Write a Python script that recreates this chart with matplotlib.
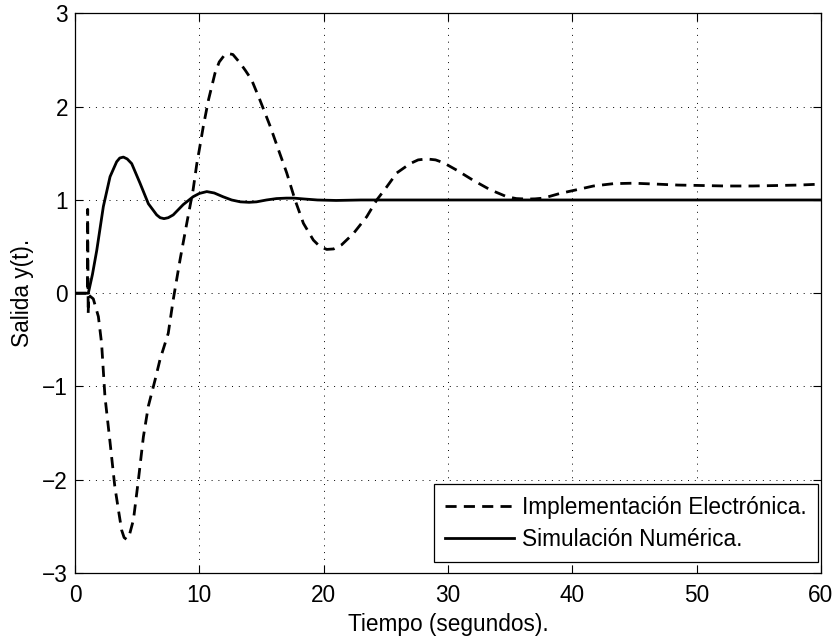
import matplotlib
matplotlib.use("Agg")
import matplotlib.pyplot as plt

# Electronic implementation (dashed)
t_elec = [0.0, 1.0, 1.02, 1.06, 1.1, 1.47, 1.88, 2.14, 2.41, 2.82, 3.2, 3.5, 3.75, 3.95,
          4.15, 4.4, 4.7, 5.1, 5.5, 5.9, 6.44, 6.84, 7.24, 7.5, 7.9, 8.45, 8.99, 9.5,
          9.8, 10.0, 10.32, 10.73, 11.26, 11.6, 12.0, 12.33, 12.7, 13.27, 13.7, 14.2,
          14.88, 15.7, 16.36, 17.03, 17.7, 18.37, 19.17, 19.7, 20.25, 20.8, 21.45,
          22.39, 23.46, 24.27, 25.07, 25.88, 26.95, 27.6, 28.29, 29.0, 29.63, 30.7,
          32.04, 33.39, 34.73, 35.5, 36.34, 37.0, 37.68, 39.0, 40.36, 41.7, 43.3,
          44.9, 46.8, 48.5, 50.5, 52.3, 54.5, 56.4, 58.2, 60.0]
y_elec = [0.0, 0.0, 0.9, -0.22, -0.02, -0.06, -0.25, -0.54, -1.11, -1.6, -2.07, -2.33, -2.54, -2.62,
          -2.64, -2.58, -2.43, -2.0, -1.54, -1.21, -0.93, -0.71, -0.54, -0.43, -0.07, 0.36, 0.75, 1.11,
          1.39, 1.54, 1.79, 2.07, 2.36, 2.48, 2.55, 2.57, 2.56, 2.47, 2.39, 2.29,
          2.07, 1.79, 1.54, 1.29, 1.0, 0.75, 0.57, 0.5, 0.47, 0.475, 0.52,
          0.64, 0.82, 1.0, 1.14, 1.29, 1.39, 1.43, 1.44, 1.43, 1.40, 1.32,
          1.21, 1.11, 1.035, 1.015, 1.01, 1.012, 1.02, 1.07, 1.11, 1.15, 1.175,
          1.18, 1.17, 1.16, 1.155, 1.15, 1.15, 1.155, 1.16, 1.17]

# Numerical simulation (solid)
t_sim = [0.0, 1.07, 1.4, 1.75, 2.28, 2.82, 3.35, 3.6, 3.89, 4.2, 4.56, 5.23, 5.9, 6.57,
         6.85, 7.16, 7.5, 7.9, 8.7, 9.5, 10.0, 10.6, 11.2, 11.9, 12.6, 13.3, 14.0, 14.6,
         15.4, 16.2, 17.0, 17.6, 18.5, 19.5, 21.0, 23.0, 26.0, 30.0, 40.0, 50.0, 60.0]
y_sim = [0.0, 0.0, 0.2, 0.46, 0.93, 1.25, 1.41, 1.45, 1.46, 1.44, 1.39, 1.18, 0.96, 0.84,
         0.81, 0.80, 0.81, 0.84, 0.95, 1.035, 1.07, 1.09, 1.075, 1.035, 1.0, 0.98, 0.975, 0.98,
         1.0, 1.015, 1.02, 1.02, 1.01, 1.0, 0.995, 1.0, 1.0, 1.0, 1.0, 1.0, 1.0]

x_ticks = [0, 10, 20, 30, 40, 50, 60]
y_ticks = [-3, -2, -1, 0, 1, 2, 3]
labels = ["Implementación Electrónica.", "Simulación Numérica."]

plt.rcParams['font.family'] = ['Liberation Sans', 'DejaVu Sans']
plt.rcParams['axes.unicode_minus'] = True

FS = 16.3
fig = plt.figure(figsize=(8.38, 6.42), dpi=100)
ax = fig.add_axes([0.0895, 0.1075, 0.8902, 0.8715])

ax.plot(t_elec, y_elec, color='black', lw=2.0, linestyle=(0, (4.0, 2.6)),
        label=labels[0], solid_joinstyle='round', dash_capstyle='butt')
ax.plot(t_sim, y_sim, color='black', lw=2.0, label=labels[1])

ax.set_xlim(0, 60)
ax.set_ylim(-3, 3)
ax.set_xticks(x_ticks)
ax.set_yticks(y_ticks)
ax.set_yticklabels(['\u22123', '\u22122', '\u22121', '0', '1', '2', '3'])
ax.grid(True, color='black', linestyle=(0, (1, 6)), lw=0.7)
ax.tick_params(axis='x', pad=8)
ax.tick_params(axis='y', pad=5)
ax.tick_params(direction='in', top=True, right=True, length=6, width=0.8,
               labelsize=FS)
for s in ax.spines.values():
    s.set_linewidth(0.9)

ax.set_xlabel('Tiempo (segundos).', fontsize=FS, labelpad=4)
ax.set_ylabel('Salida y(t).', fontsize=FS, labelpad=6)

px = FS * 100 / 72.0
leg = ax.legend(loc='lower right', bbox_to_anchor=(0.996, 0.0196),
                fontsize=FS, frameon=True, fancybox=False,
                edgecolor='black', framealpha=1, handlelength=69 / px,
                handletextpad=8 / px, borderpad=0.5, labelspacing=0.4,
                borderaxespad=0.0)
leg.get_frame().set_linewidth(0.9)

fig.savefig('out.png', dpi=100)
